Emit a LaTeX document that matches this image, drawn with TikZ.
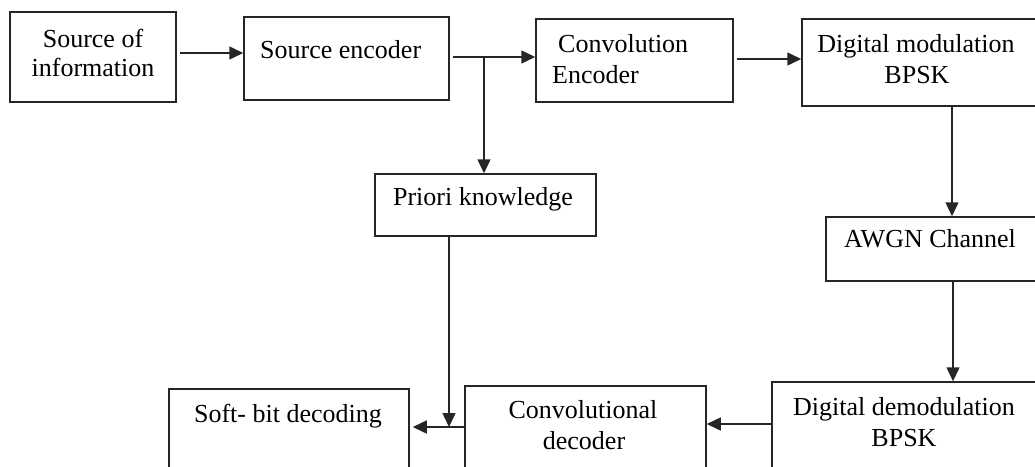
\documentclass[tikz,border=0pt]{standalone}
\usepackage{fontspec}
\setmainfont{Liberation Serif}
\usetikzlibrary{arrows.meta}
\begin{document}
\begin{tikzpicture}[x=1pt,y=-1pt,
  blk/.style={draw=black!85,line width=1.5pt,fill=white,rectangle,inner sep=0pt},
  txt/.style={inner sep=0pt,anchor=base,font=\fontsize{26}{30}\selectfont},
  txtl/.style={txt,anchor=base west},
  arr/.style={draw=black!85,line width=1.5pt,-{Triangle[length=14pt,width=13pt]}},
  ln/.style={draw=black!85,line width=1.5pt}]
\useasboundingbox (0,0) rectangle (1035,466);
\clip (0,0) rectangle (1035,466);

% blocks: centre, then width and height
\node[blk,minimum width=166pt,minimum height=90pt] (src) at (93,57) {};
\node[blk,minimum width=205pt,minimum height=83pt] (senc) at (346.5,58.5) {};
\node[blk,minimum width=197pt,minimum height=83pt] (cenc) at (634.5,60.5) {};
\node[blk,minimum width=243pt,minimum height=87pt] (mod) at (923.5,62.5) {};
\node[blk,minimum width=221pt,minimum height=62pt] (prio) at (485.5,205) {};
\node[blk,minimum width=219pt,minimum height=64pt] (awgn) at (935.5,249) {};
\node[blk,minimum width=273pt,minimum height=98pt] (demod) at (908.5,431) {};
\node[blk,minimum width=241pt,minimum height=94pt] (cdec) at (585.5,433) {};
\node[blk,minimum width=240pt,minimum height=91pt] (soft) at (289,434.5) {};

% labels
\node[txt] (l1a) at (93,47) {Source of};
\node[txt] (l1b) at (93,76) {information};
\node[txtl] (l2) at (260,58) {Source encoder};
\node[txtl] (l3a) at (558,52) {Convolution};
\node[txtl] (l3b) at (552,83) {Encoder};
\node[txt] (l4a) at (916,52) {Digital modulation};
\node[txt] (l4b) at (917,83) {BPSK};
\node[txt] (l5) at (483,205) {Priori knowledge};
\node[txt] (l6) at (930,247) {AWGN Channel};
\node[txt] (l7a) at (904,415) {Digital demodulation};
\node[txt] (l7b) at (904,446) {BPSK};
\node[txt] (l8a) at (583,418) {Convolutional};
\node[txt] (l8b) at (584,449) {decoder};
\node[txt] (l9) at (288,422) {Soft- bit decoding};

% junction points
\coordinate (tap) at (484,57);
\coordinate (merge) at (449,427);

% connectors
\draw[arr,shorten <=3pt] (src.east |- 0,53) -- (senc.west |- 0,53);
\draw[arr,shorten <=3pt] (senc.east |- tap) -- (cenc.west |- tap);
\draw[arr] (tap) -- (tap |- prio.north);
\draw[arr,shorten <=3pt] (cenc.east |- 0,59) -- (mod.west |- 0,59);
\draw[arr] (mod.south -| 952,0) -- (awgn.north -| 952,0);
\draw[arr] (awgn.south -| 953,0) -- (demod.north -| 953,0);
\draw[arr] (demod.west |- 0,424) -- (cdec.east |- 0,424);
\draw[arr,shorten >=3pt] (cdec.west |- merge) -- (soft.east |- merge);
\draw[arr] (prio.south -| merge) -- (merge);
\end{tikzpicture}
\end{document}
